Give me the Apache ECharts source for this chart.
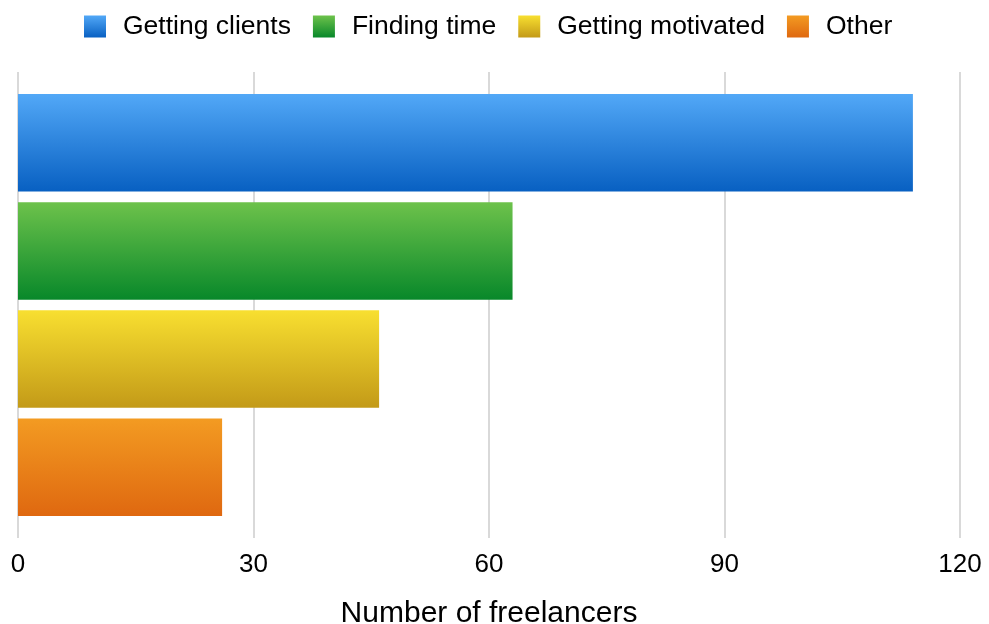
<!DOCTYPE html>
<html><head><meta charset="utf-8">
<script src="https://cdn.jsdelivr.net/npm/echarts@6/dist/echarts.min.js"></script>
<style>html,body{margin:0;padding:0;background:#fff}#c{width:989px;height:624px}</style>
</head><body><div id="c"></div>
<script>
const categories = ['Challenge'];
const seriesNames = ['Getting clients', 'Finding time', 'Getting motivated', 'Other'];
const seriesValues = [[114], [63], [46], [26]];
const xTicks = [0, 30, 60, 90, 120];
const colorsTop = ['#52a8f7', '#6dc24b', '#f8df30', '#f39b22'];
const colorsBottom = ['#0860c2', '#08882a', '#c39a18', '#df6810'];

const chart = echarts.init(document.getElementById('c'));
const font = '"Liberation Sans", Helvetica, Arial, sans-serif';
chart.setOption({
  animation: false,
  textStyle: { fontFamily: font },
  legend: {
    top: 13, left: 84, padding: 0, itemWidth: 22, itemHeight: 22, itemGap: 22,
    icon: 'rect',
    textStyle: { fontSize: 26.5, color: '#000', fontFamily: font, padding: [0, 0, 0, 12] },
    data: seriesNames
  },
  grid: { left: 18, right: 29, top: 72, bottom: 86, containLabel: false, outerBoundsMode: 'none' },
  xAxis: {
    type: 'value', min: xTicks[0], max: xTicks[xTicks.length - 1], interval: 30,
    axisLine: { show: false }, axisTick: { show: false },
    splitLine: { show: true, lineStyle: { color: '#cccccc', width: 1.5 } },
    axisLabel: { fontSize: 26, color: '#000', margin: 14, fontFamily: font },
    name: 'Number of freelancers', nameLocation: 'middle', nameGap: 61,
    nameTextStyle: { fontSize: 30, color: '#000', fontFamily: font }
  },
  yAxis: {
    type: 'category', data: categories, inverse: true,
    axisLine: { show: false }, axisTick: { show: false }, axisLabel: { show: false }
  },
  series: seriesNames.map((n, i) => ({
    name: n, type: 'bar', data: seriesValues[i],
    barCategoryGap: '9.4%', barGap: '11%',
    itemStyle: {
      color: new echarts.graphic.LinearGradient(0, 0, 0, 1, [
        { offset: 0, color: colorsTop[i] }, { offset: 1, color: colorsBottom[i] }
      ])
    }
  }))
});
</script></body></html>
